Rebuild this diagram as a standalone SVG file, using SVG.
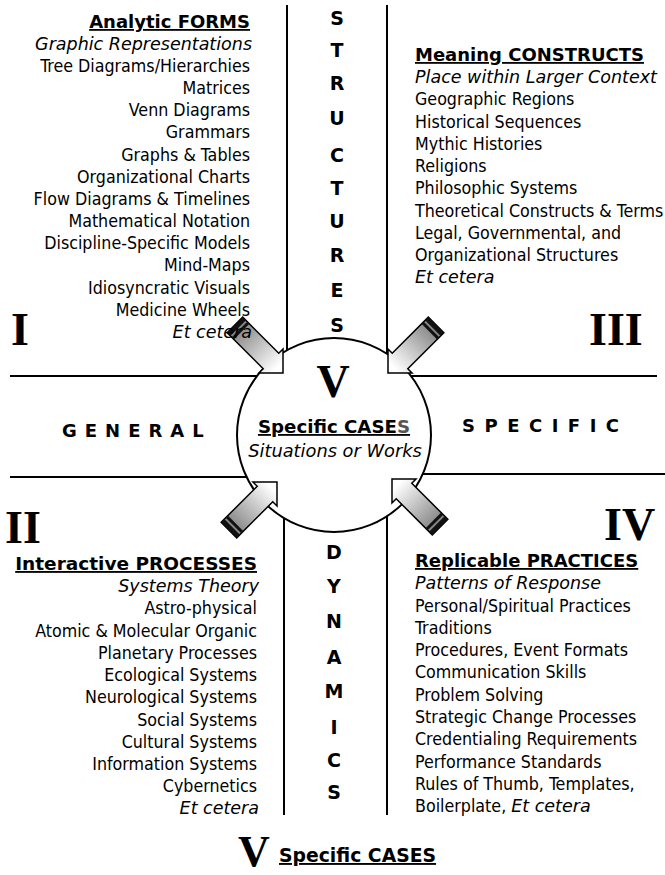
<svg xmlns="http://www.w3.org/2000/svg" width="665" height="875" viewBox="0 0 665 875">
<defs>
<style>
.t{font-family:"DejaVu Sans Condensed","DejaVu Sans",sans-serif;font-size:17.7px;fill:#000}
.i{font-family:"DejaVu Sans",sans-serif;font-style:italic;font-size:17.5px}
.h{font-family:"DejaVu Sans",sans-serif;font-weight:bold;font-size:18px;text-decoration:underline}
.e{text-anchor:end}
.m{text-anchor:middle}
.v{font-family:"DejaVu Sans","DejaVu Sans Condensed",sans-serif;font-weight:bold;font-size:19px;text-anchor:middle}
.rn{font-family:"Liberation Serif","Times New Roman",serif;font-weight:bold;font-size:46px}
.ln{stroke:#000;stroke-width:2;fill:none}
.arr{stroke:#000;stroke-width:1.5;fill:url(#ag)}
.band{fill:#111}
</style>
<linearGradient id="ag" gradientUnits="userSpaceOnUse" x1="-68" y1="0" x2="-8" y2="0">
<stop offset="0" stop-color="#7a7a7a"/>
<stop offset="1" stop-color="#ffffff"/>
</linearGradient>
<g id="arrow">
<polygon class="arr" points="-68,-11 -17,-11 -17,-17 0,0 -17,17 -17,11 -68,11"/>
<rect class="band" x="-68" y="-11" width="4.5" height="22"/>
<rect class="band" x="-61.5" y="-11" width="3" height="22"/>
</g>
</defs>
<rect width="665" height="875" fill="#fff"/>

<g id="connectors">
<line class="ln" x1="287" y1="5" x2="287" y2="350"/>
<line class="ln" x1="387" y1="5" x2="387" y2="354"/>
<line class="ln" x1="10" y1="376" x2="257" y2="376"/>
<line class="ln" x1="411" y1="376" x2="657" y2="376"/>
<line class="ln" x1="10" y1="477" x2="247" y2="477"/>
<line class="ln" x1="423" y1="474" x2="665" y2="474"/>
<line class="ln" x1="284" y1="518" x2="284" y2="815"/>
<line class="ln" x1="387" y1="516" x2="387" y2="815"/>
</g>

<g id="center">
<circle cx="334" cy="435" r="97" fill="#fff" stroke="#000" stroke-width="2"/>
<text class="rn m" x="333" y="397" font-size="50">V</text>
<text class="t h m" x="334" y="433" style="font-size:18.2px">Specific CASE<tspan fill="#555">S</tspan></text>
<text class="t i m" x="335" y="457" style="font-size:17.8px">Situations or Works</text>
</g>

<g id="arrows">
<use href="#arrow" transform="translate(283,373) rotate(45)"/>
<use href="#arrow" transform="translate(388,373) rotate(135)"/>
<use href="#arrow" transform="translate(277,482) rotate(-45)"/>
<use href="#arrow" transform="translate(392,479) rotate(-135)"/>
</g>

<g id="structures">
<text class="v" x="337" y="25">S</text>
<text class="v" x="337" y="57">T</text>
<text class="v" x="337" y="90">R</text>
<text class="v" x="337" y="125">U</text>
<text class="v" x="337" y="162">C</text>
<text class="v" x="337" y="195">T</text>
<text class="v" x="337" y="228">U</text>
<text class="v" x="337" y="262">R</text>
<text class="v" x="337" y="297">E</text>
<text class="v" x="337" y="332">S</text>
</g>

<g id="dynamics">
<text class="v" x="334" y="559">D</text>
<text class="v" x="334" y="593">Y</text>
<text class="v" x="334" y="628">N</text>
<text class="v" x="334" y="664">A</text>
<text class="v" x="334" y="698">M</text>
<text class="v" x="334" y="734">I</text>
<text class="v" x="334" y="767">C</text>
<text class="v" x="334" y="799">S</text>
</g>

<g id="general">
<text class="v" x="62" y="437" style="text-anchor:start;font-size:18px;letter-spacing:8px">GENERAL</text>
</g>
<g id="specific">
<text class="v" x="462" y="432" style="text-anchor:start;font-size:18px;letter-spacing:9.5px">SPECIFIC</text>
</g>

<g id="quadrant-I">
<text class="rn" x="11" y="345">I</text>
<text class="t h e" x="250" y="28">Analytic FORMS</text>
<text class="t i e" x="252" y="50">Graphic Representations</text>
<text class="t e" x="250" y="72">Tree Diagrams/Hierarchies</text>
<text class="t e" x="250" y="94">Matrices</text>
<text class="t e" x="250" y="116">Venn Diagrams</text>
<text class="t e" x="250" y="138">Grammars</text>
<text class="t e" x="250" y="161">Graphs &amp; Tables</text>
<text class="t e" x="250" y="183">Organizational Charts</text>
<text class="t e" x="250" y="205">Flow Diagrams &amp; Timelines</text>
<text class="t e" x="250" y="227">Mathematical Notation</text>
<text class="t e" x="250" y="249">Discipline-Specific Models</text>
<text class="t e" x="250" y="271">Mind-Maps</text>
<text class="t e" x="250" y="294">Idiosyncratic Visuals</text>
<text class="t e" x="250" y="316">Medicine Wheels</text>
<text class="t i e" x="252" y="338">Et cetera</text>
</g>

<g id="quadrant-III">
<text class="rn" x="589" y="345">III</text>
<text class="t h" x="415" y="61">Meaning CONSTRUCTS</text>
<text class="t i" x="415" y="83">Place within Larger Context</text>
<text class="t" x="415" y="105">Geographic Regions</text>
<text class="t" x="415" y="128">Historical Sequences</text>
<text class="t" x="415" y="150">Mythic Histories</text>
<text class="t" x="415" y="172">Religions</text>
<text class="t" x="415" y="194">Philosophic Systems</text>
<text class="t" x="415" y="217">Theoretical Constructs &amp; Terms</text>
<text class="t" x="415" y="239">Legal, Governmental, and</text>
<text class="t" x="415" y="261">Organizational Structures</text>
<text class="t i" x="415" y="283">Et cetera</text>
</g>

<g id="quadrant-II">
<text class="rn" x="5" y="543">II</text>
<text class="t h e" x="257" y="570" style="font-size:18.5px">Interactive PROCESSES</text>
<text class="t i e" x="259" y="592">Systems Theory</text>
<text class="t e" x="257" y="614">Astro-physical</text>
<text class="t e" x="257" y="637">Atomic &amp; Molecular Organic</text>
<text class="t e" x="257" y="659">Planetary Processes</text>
<text class="t e" x="257" y="681">Ecological Systems</text>
<text class="t e" x="257" y="703">Neurological Systems</text>
<text class="t e" x="257" y="726">Social Systems</text>
<text class="t e" x="257" y="748">Cultural Systems</text>
<text class="t e" x="257" y="770">Information Systems</text>
<text class="t e" x="257" y="792">Cybernetics</text>
<text class="t i e" x="259" y="814">Et cetera</text>
</g>

<g id="quadrant-IV">
<text class="rn" x="604" y="540">IV</text>
<text class="t h" x="415" y="567">Replicable PRACTICES</text>
<text class="t i" x="415" y="589">Patterns of Response</text>
<text class="t" x="415" y="612">Personal/Spiritual Practices</text>
<text class="t" x="415" y="634">Traditions</text>
<text class="t" x="415" y="656">Procedures, Event Formats</text>
<text class="t" x="415" y="678">Communication Skills</text>
<text class="t" x="415" y="701">Problem Solving</text>
<text class="t" x="415" y="723">Strategic Change Processes</text>
<text class="t" x="415" y="745">Credentialing Requirements</text>
<text class="t" x="415" y="768">Performance Standards</text>
<text class="t" x="415" y="790">Rules of Thumb, Templates,</text>
<text class="t" x="415" y="812">Boilerplate, <tspan class="i">Et cetera</tspan></text>
</g>

<g id="footer">
<text class="rn" x="238" y="866" style="font-size:44px">V</text>
<text class="t h" x="279" y="862" style="font-size:18.8px">Specific CASES</text>
</g>
</svg>
